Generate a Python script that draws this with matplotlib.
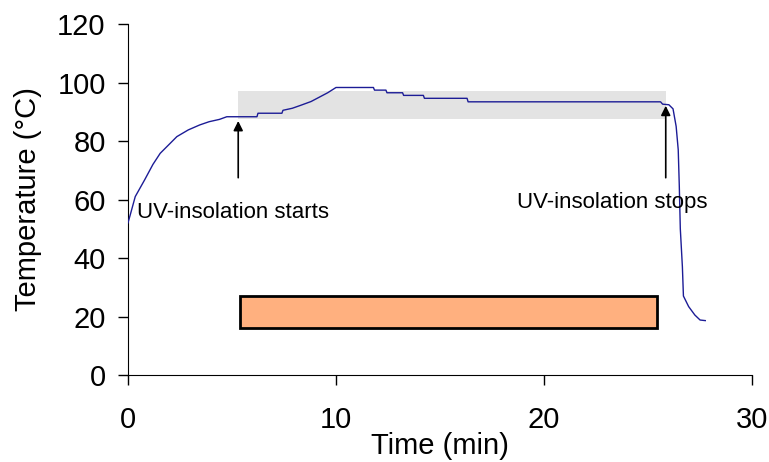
import numpy as np
import matplotlib
matplotlib.use("Agg")
import matplotlib.pyplot as plt
from matplotlib.patches import Rectangle

plt.rcParams['font.family'] = ['Liberation Sans', 'DejaVu Sans']

# temperature log (min, degC)
time_min = [0.0, 0.1, 0.35, 0.8, 1.2, 1.55, 2.0, 2.35, 2.9, 3.45, 3.9, 4.4, 4.75,
            6.2, 6.25, 7.4, 7.45, 7.9, 8.3, 8.8, 9.2, 9.6, 10.0,
            11.8, 11.85, 12.4, 12.45, 13.2, 13.25, 14.2, 14.25, 16.3, 16.35,
            25.6, 25.7, 26.0, 26.2, 26.35, 26.45, 26.5, 26.55, 26.65, 26.7,
            26.95, 27.25, 27.5, 27.75]
temp_c = [52.0, 54.5, 61.0, 66.7, 72.0, 75.8, 79.0, 81.5, 83.8, 85.5, 86.6, 87.4, 88.3,
          88.3, 89.5, 89.5, 90.5, 91.2, 92.2, 93.5, 95.0, 96.5, 98.3,
          98.3, 97.4, 97.4, 96.5, 96.5, 95.6, 95.6, 94.6, 94.6, 93.4,
          93.4, 92.6, 92.4, 91.0, 85.0, 77.0, 65.0, 50.0, 37.0, 27.0,
          23.4, 20.5, 18.8, 18.6]

uv_start, uv_stop = 5.3, 25.85
band_lo, band_hi = 87.5, 97.0
bar_t = (5.4, 25.45)
bar_T = (16.0, 27.0)

fig = plt.figure(figsize=(7.69, 4.62), dpi=100)
ax = fig.add_axes([0.1664, 0.1883, 0.8116, 0.7597])

ax.add_patch(Rectangle((uv_start, band_lo), uv_stop - uv_start, band_hi - band_lo,
                       facecolor='#e3e3e3', edgecolor='none', zorder=1))
ax.plot(time_min, temp_c, color='#1c1c96', lw=1.0, zorder=3)

# irradiation period bar
ax.add_patch(Rectangle((bar_t[0], bar_T[0]), bar_t[1] - bar_t[0], bar_T[1] - bar_T[0],
                       facecolor='#ffb07f', edgecolor='black', lw=2, zorder=2))

arrow = dict(arrowstyle='-|>', color='black', lw=1.2, mutation_scale=14)
ax.annotate('', xy=(uv_start, 87.8), xytext=(uv_start, 66.5), arrowprops=arrow)
ax.annotate('', xy=(25.85, 93.0), xytext=(25.85, 66.5), arrowprops=arrow)
ax.text(0.45, 55.5, 'UV-insolation starts', fontsize=16, va='center', ha='left')
ax.text(23.3, 59.0, 'UV-insolation stops', fontsize=16, va='center', ha='center')

ax.set_xlim(0, 30)
ax.set_ylim(0, 120)
ax.set_xticks([0, 10, 20, 30])
ax.set_yticks(range(0, 121, 20))
ax.tick_params(direction='out', labelsize=21, length=7, width=1)
ax.tick_params(axis='x', pad=15)
ax.tick_params(axis='y', pad=9)
ax.spines['top'].set_visible(False)
ax.spines['right'].set_visible(False)
ax.set_xlabel('Time (min)', fontsize=21, labelpad=-1)
ax.set_ylabel('Temperature (°C)', fontsize=21, labelpad=11)

fig.savefig('out.png', dpi=100)
